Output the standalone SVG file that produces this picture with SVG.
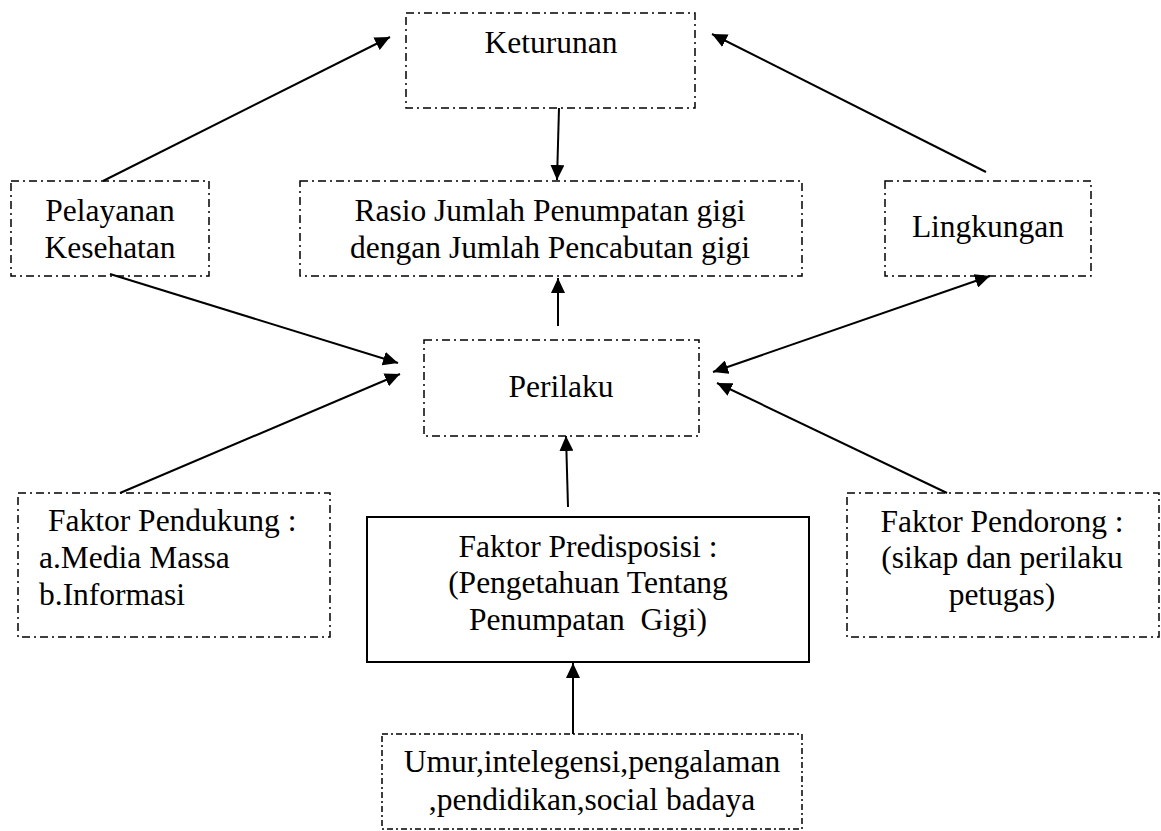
<svg xmlns="http://www.w3.org/2000/svg" width="1161" height="831" viewBox="0 0 1161 831">
<style>
  .box { fill: none; stroke: #000; stroke-width: 1.5; stroke-dasharray: 8 4 2 4; }
  .box2 { fill: none; stroke: #000; stroke-width: 1.5; stroke-dasharray: 6 3 2 3; }
  .solid { fill: none; stroke: #000; stroke-width: 2; }
  .lbl { font-family: "Liberation Serif", "Times New Roman", Times, serif; font-size: 31.5px; fill: #000; }
  .c { text-anchor: middle; }
  .conn line { stroke: #000; stroke-width: 2; }
</style>
<defs>
  <marker id="ah" markerUnits="userSpaceOnUse" markerWidth="16" markerHeight="14" refX="15" refY="7" orient="auto-start-reverse">
    <path d="M0,0 L15,7 L0,14 Z" fill="#000"/>
  </marker>
</defs>
<rect width="1161" height="831" fill="#fff"/>
<g font-family="Liberation Serif, Times New Roman, Times, serif">
<g id="keturunan">
  <rect class="box" x="406" y="13" width="289" height="95"/>
  <text class="lbl c" x="551" y="53">Keturunan</text>
</g>
<g id="pelayanan">
  <rect class="box" x="11" y="181" width="198" height="95"/>
  <text class="lbl c" x="110" y="221">Pelayanan</text>
  <text class="lbl c" x="110" y="258">Kesehatan</text>
</g>
<g id="rasio">
  <rect class="box" x="300" y="181" width="502" height="95"/>
  <text class="lbl c" x="550" y="221">Rasio Jumlah Penumpatan gigi</text>
  <text class="lbl c" x="550" y="258">dengan Jumlah Pencabutan gigi</text>
</g>
<g id="lingkungan">
  <rect class="box" x="885" y="181" width="206" height="95"/>
  <text class="lbl c" x="988" y="237">Lingkungan</text>
</g>
<g id="perilaku">
  <rect class="box" x="424" y="340" width="275" height="96"/>
  <text class="lbl c" x="561" y="397">Perilaku</text>
</g>
<g id="pendukung">
  <rect class="box" x="18" y="493" width="312" height="144"/>
  <text class="lbl" x="48" y="531">Faktor Pendukung :</text>
  <text class="lbl" x="39" y="568">a.Media Massa</text>
  <text class="lbl" x="39" y="605">b.Informasi</text>
</g>
<g id="predisposisi">
  <rect class="solid" x="367" y="517" width="442" height="145"/>
  <text class="lbl c" x="588" y="557">Faktor Predisposisi :</text>
  <text class="lbl c" x="588" y="593">(Pengetahuan Tentang</text>
  <text class="lbl c" x="588" y="630" xml:space="preserve">Penumpatan  Gigi)</text>
</g>
<g id="pendorong">
  <rect class="box" x="847" y="493" width="312" height="144"/>
  <text class="lbl c" x="1002" y="532">Faktor Pendorong :</text>
  <text class="lbl c" x="1002" y="568">(sikap dan perilaku</text>
  <text class="lbl c" x="1002" y="605">petugas)</text>
</g>
<g id="umur">
  <rect class="box2" x="382" y="734" width="420" height="95"/>
  <text class="lbl c" x="592" y="772">Umur,intelegensi,pengalaman</text>
  <text class="lbl c" x="592" y="810">,pendidikan,social badaya</text>
</g>
</g>
<g id="connectors" class="conn">
  <line x1="103" y1="181" x2="390" y2="37" marker-end="url(#ah)"/>
  <line x1="559" y1="108" x2="557" y2="180" marker-end="url(#ah)"/>
  <line x1="986" y1="172" x2="712" y2="34" marker-end="url(#ah)"/>
  <line x1="558" y1="326" x2="558" y2="278" marker-end="url(#ah)"/>
  <line x1="110" y1="274" x2="398" y2="363" marker-end="url(#ah)"/>
  <line x1="120" y1="493" x2="400" y2="374" marker-end="url(#ah)"/>
  <line x1="713" y1="372" x2="990" y2="276" marker-start="url(#ah)" marker-end="url(#ah)"/>
  <line x1="947" y1="493" x2="717" y2="383" marker-end="url(#ah)"/>
  <line x1="568" y1="507" x2="566" y2="436" marker-end="url(#ah)"/>
  <line x1="573" y1="734" x2="573" y2="663" marker-end="url(#ah)"/>
</g>
</svg>
